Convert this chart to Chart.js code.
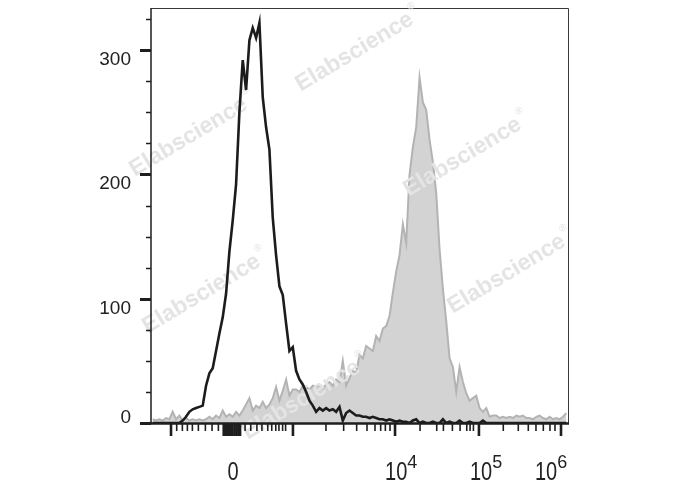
<!DOCTYPE html>
<html>
<head>
<meta charset="utf-8">
<script src="https://cdn.jsdelivr.net/npm/chart.js@4/dist/chart.umd.min.js"></script>
<style>
  html, body { margin: 0; padding: 0; background: #fff; }
  #chart { display: block; }
</style>
</head>
<body>
<canvas id="chart" width="688" height="490"></canvas>
<script>
// histogram bins on display channels 0-250, 2 channels per bin
const binWidth = 2;

// unstained control (black line)
const controlCounts = [
  0, 0, 0, 0, 0, 0, 0, 0, 0, 2,
  5, 9, 11, 12, 13, 14, 30, 40, 44, 58,
  72, 85, 104, 138, 163, 192, 250, 292, 268, 308,
  318, 310, 322, 262, 238, 220, 165, 135, 110, 103,
  80, 58, 61, 42, 35, 31, 25, 18, 14, 9,
  12, 10, 12, 10, 11, 9, 13, 2, 8, 10,
  8, 6, 6, 5, 5, 4, 5, 4, 3, 3,
  2, 3, 2, 1, 2, 1, 1, 0, 2, 3,
  0, 1, 0, 0, 1, 0, 0, 3, 0, 1,
  0, 0, 2, 0, 0, 1, 0, 0, 0, 2,
  0, 0, 0, 0, 0, 0, 0, 0, 0, 0,
  0, 0, 0, 0, 0, 0, 0, 0, 0, 0,
  0, 0, 0, 0, 0
];

// stained sample (grey filled)
const stainedCounts = [
  3, 2, 3, 2, 4, 3, 9, 3, 6, 2,
  4, 2, 3, 2, 3, 2, 3, 5, 3, 6,
  4, 10, 5, 7, 5, 9, 6, 10, 15, 20,
  10, 14, 12, 17, 12, 15, 20, 29, 18, 26,
  35, 22, 27, 27, 25, 30, 29, 27, 30, 29,
  31, 28, 31, 33, 30, 35, 33, 50, 30, 36,
  42, 40, 55, 52, 62, 60, 58, 70, 66, 76,
  78, 86, 105, 122, 135, 160, 145, 200, 222, 238,
  278, 258, 252, 228, 210, 185, 140, 108, 82, 52,
  45, 25, 45, 33, 24, 18, 20, 22, 12, 9,
  12, 5, 6, 6, 4, 5, 4, 5, 4, 6,
  5, 6, 4, 4, 3, 5, 6, 4, 3, 5,
  3, 4, 3, 5, 8
];

// y axis
const yTickValues = [0, 25, 50, 75, 100, 125, 150, 175, 200, 225, 250, 275, 300, 325];
const yLabelValues = [0, 100, 200, 300];

// x axis (biexponential display channels)
const xMajorTicks = [12.0, 43.6, 44.8, 46.0, 47.2, 48.6, 50.0, 51.2, 52.4, 53.4, 85.1, 146.3, 196.6, 245.8];
const xMinorTicks = [15.4, 18.8, 21.8, 24.8, 28.4, 32.6, 36.6, 40.4,
  56.4, 59.8, 63.5, 66.5, 70.0, 72.4, 74.8, 76.7, 78.9, 80.7,
  104.9, 115.5, 123.3, 129.5, 134.3, 137.7, 140.5, 143.3,
  161.3, 171.3, 175.3, 180.7, 185.3, 189.3, 191.3, 193.3,
  211.2, 220.2, 226.2, 230.8, 235.2, 239.2, 242.2];
const xLabelBase = ['0', '10', '10', '10'];
const xLabelExp = ['', '4', '5', '6'];
const xLabelPos = [45.9, 140.3, 191.2, 230.2];

// watermark spots (canvas px)
const watermarks = [[358, 50], [192, 135], [466, 155], [205, 292], [510, 272], [305, 398]];

const FONT = '"Liberation Sans", Arial, Helvetica, sans-serif';

function toPoints(counts) {
  return counts.map((c, i) => ({ x: binWidth * i + binWidth / 2, y: c }));
}

const axesPlugin = {
  id: 'flowAxes',
  beforeDatasetsDraw(chart) {
    const { ctx, chartArea: a } = chart;
    ctx.save();
    // frame top / right
    ctx.strokeStyle = '#3a3a3a';
    ctx.lineWidth = 1;
    ctx.beginPath();
    ctx.moveTo(a.left, a.top + 0.5);
    ctx.lineTo(a.right + 0.5, a.top + 0.5);
    ctx.lineTo(a.right + 0.5, a.bottom);
    ctx.stroke();
    ctx.restore();
  },
  afterDatasetDraw(chart, args) {
    if (args.index !== 1) return;
    const ctx = chart.ctx;
    ctx.save();
    ctx.fillStyle = '#e4e4e4';
    watermarks.forEach(([cx, cy]) => {
      ctx.save();
      ctx.translate(cx, cy);
      ctx.rotate(-31 * Math.PI / 180);
      ctx.font = 'bold 23px ' + FONT;
      ctx.textAlign = 'left';
      ctx.textBaseline = 'middle';
      const w = ctx.measureText('Elabscience').width;
      ctx.fillText('Elabscience', -w / 2 - 4, 0);
      ctx.font = '10px ' + FONT;
      ctx.fillText('®', w / 2 - 2, -10);
      ctx.restore();
    });
    ctx.restore();
  },
  afterDatasetsDraw(chart) {
    const { ctx, chartArea: a, scales } = chart;
    const x = scales.x, y = scales.y;
    ctx.save();
    ctx.strokeStyle = '#1e1e1e';
    // left axis
    ctx.lineWidth = 1.5;
    ctx.beginPath();
    ctx.moveTo(a.left, a.top);
    ctx.lineTo(a.left, a.bottom);
    ctx.stroke();
    // y ticks
    yTickValues.forEach(v => {
      const py = Math.round(y.getPixelForValue(v)) + 0.5;
      const major = v % 100 === 0;
      ctx.lineWidth = major ? 3 : 1.5;
      ctx.beginPath();
      ctx.moveTo(a.left - (major ? 11 : 5), py);
      ctx.lineTo(a.left, py);
      ctx.stroke();
    });
    // bottom axis
    ctx.lineWidth = 2.5;
    ctx.beginPath();
    ctx.moveTo(a.left - 11, a.bottom + 0.5);
    ctx.lineTo(a.right + 1, a.bottom + 0.5);
    ctx.stroke();
    // x ticks
    xMajorTicks.forEach(v => {
      const px = x.getPixelForValue(v);
      ctx.lineWidth = 2.6;
      ctx.beginPath();
      ctx.moveTo(px, a.bottom);
      ctx.lineTo(px, a.bottom + 13);
      ctx.stroke();
    });
    xMinorTicks.forEach(v => {
      const px = x.getPixelForValue(v);
      ctx.lineWidth = 1.6;
      ctx.beginPath();
      ctx.moveTo(px, a.bottom);
      ctx.lineTo(px, a.bottom + 8);
      ctx.stroke();
    });
    // y labels
    ctx.fillStyle = '#222';
    ctx.font = '19px ' + FONT;
    ctx.textAlign = 'right';
    ctx.textBaseline = 'alphabetic';
    yLabelValues.forEach(v => {
      const py = y.getPixelForValue(v);
      ctx.fillText(String(v), 131, v === 0 ? py : py + 15);
    });
    // x labels with exponents
    ctx.textAlign = 'left';
    xLabelBase.forEach((base, i) => {
      const px = x.getPixelForValue(xLabelPos[i]);
      ctx.save();
      ctx.translate(px, 480);
      ctx.scale(1, 1.25);
      ctx.font = '20px ' + FONT;
      ctx.fillText(base, 0, 0);
      const w = ctx.measureText(base).width;
      ctx.restore();
      if (xLabelExp[i]) {
        ctx.font = '18px ' + FONT;
        ctx.fillText(xLabelExp[i], px + w, 468);
      }
    });
    ctx.restore();
  }
};

new Chart(document.getElementById('chart'), {
  type: 'line',
  data: {
    datasets: [
      {
        label: 'Control',
        data: toPoints(controlCounts),
        borderColor: '#1c1c1c',
        borderWidth: 2.6,
        fill: false,
        pointRadius: 0,
        tension: 0,
        order: 1
      },
      {
        label: 'Stained',
        data: toPoints(stainedCounts),
        borderColor: '#b3b3b3',
        backgroundColor: '#d3d3d3',
        borderWidth: 2,
        fill: 'origin',
        pointRadius: 0,
        tension: 0,
        order: 2
      }
    ]
  },
  options: {
    responsive: false,
    animation: false,
    devicePixelRatio: 1,
    layout: { padding: { left: 151, right: 120, top: 8, bottom: 67 } },
    plugins: { legend: { display: false }, tooltip: { enabled: false } },
    scales: {
      x: { type: 'linear', min: 0, max: 250, display: false },
      y: { type: 'linear', min: 0, max: 334, display: false }
    }
  },
  plugins: [axesPlugin]
});
</script>
</body>
</html>
